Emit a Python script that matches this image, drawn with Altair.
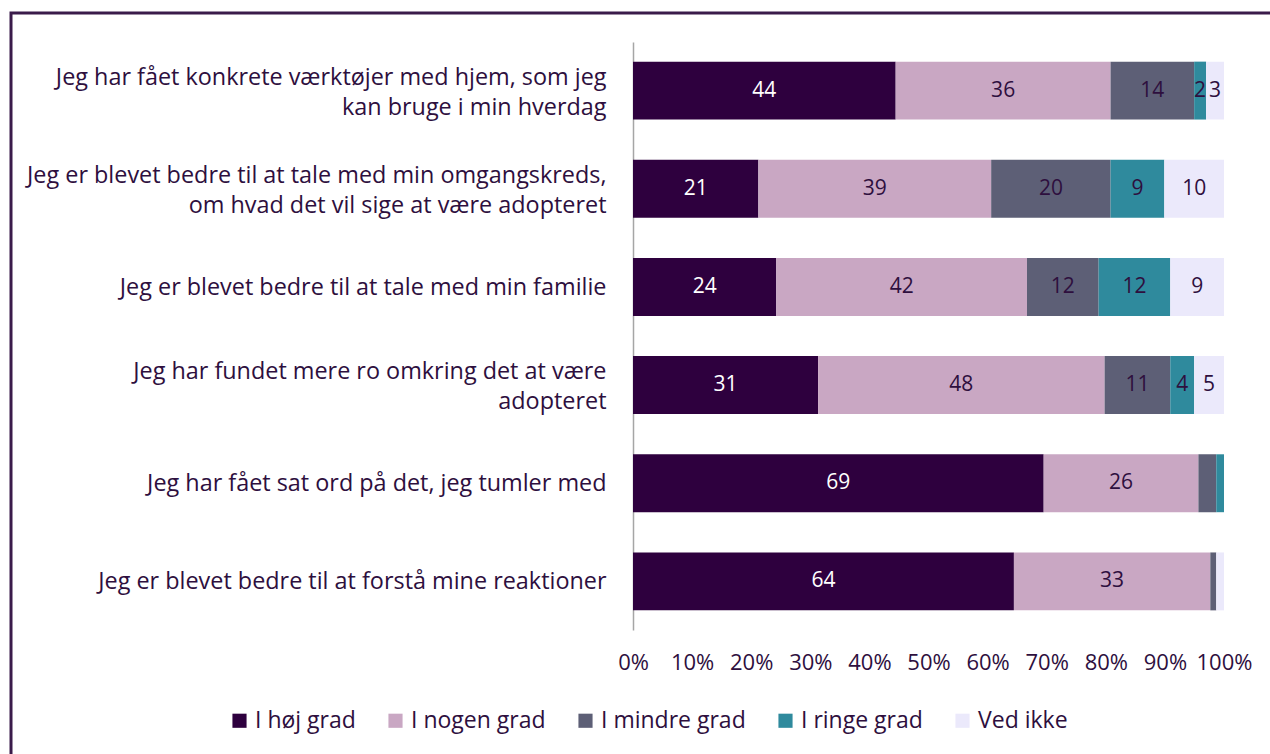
import altair as alt
import pandas as pd

categories = [
    "Jeg har fået konkrete værktøjer med hjem, som jeg|kan bruge i min hverdag",
    "Jeg er blevet bedre til at tale med min omgangskreds,|om hvad det vil sige at være adopteret",
    "Jeg er blevet bedre til at tale med min familie",
    "Jeg har fundet mere ro omkring det at være|adopteret",
    "Jeg har fået sat ord på det, jeg tumler med",
    "Jeg er blevet bedre til at forstå mine reaktioner",
]
levels = ["I høj grad", "I nogen grad", "I mindre grad", "I ringe grad", "Ved ikke"]
colors = ["#2E003E", "#C9A7C3", "#5D5F76", "#2F8A9D", "#EBE9FB"]
label_colors = ["#FFFFFF", "#2E0F3E", "#2E0F3E", "#2E0F3E", "#2E0F3E"]

hoj = [44, 21, 24, 31, 69, 64]
nogen = [36, 39, 42, 48, 26, 33]
mindre = [14, 20, 12, 11, 3, 1]
ringe = [2, 9, 12, 4, 1.3, 0]
ved_ikke = [3, 10, 9, 5, 0, 1.3]
series = [hoj, nogen, mindre, ringe, ved_ikke]

# segments that carry no data label in the original
unlabelled = {(4, 2), (4, 3), (4, 4), (5, 2), (5, 3), (5, 4)}

rows = []
for li, (lev, vals) in enumerate(zip(levels, series)):
    for ci, (cat, v) in enumerate(zip(categories, vals)):
        show = (ci, li) not in unlabelled and v > 0
        rows.append({"cat": cat, "level": lev, "ord": li, "value": v,
                     "label": f"{v:g}" if show else "", "tcol": label_colors[li]})
df = pd.DataFrame(rows)

FONT = "Open Sans"
TXT = "#2E0F3E"
FS = 21

base = alt.Chart(df).transform_joinaggregate(
    total="sum(value)", groupby=["cat"]
).transform_calculate(
    pct="datum.value / datum.total"
).transform_window(
    cum="sum(pct)", frame=[None, 0], sort=[{"field": "ord"}], groupby=["cat"]
).transform_calculate(
    start="datum.cum - datum.pct", mid="datum.cum - datum.pct / 2"
)

y_enc = alt.Y("cat:N", sort=categories, title=None,
              scale=alt.Scale(paddingInner=0.41, paddingOuter=0.2),
              axis=alt.Axis(labelExpr="split(datum.label, '|')", labelFontSize=23.4,
                            labelFont=FONT, labelColor=TXT, labelLineHeight=30,
                            labelOffset=alt.condition("indexof(datum.label, '|') >= 0",
                                                      alt.value(-13), alt.value(1)),
                            labelPadding=27, ticks=False, domainColor="#A6A6A6",
                            domainWidth=1.5, labelLimit=700, minExtent=633, maxExtent=633))

bars = base.mark_bar().encode(
    x=alt.X("start:Q", scale=alt.Scale(domain=[0, 1]), title=None,
            axis=alt.Axis(format=".0%", values=[i / 10 for i in range(11)], grid=False,
                          domain=False, ticks=False, labelFontSize=22, labelFont=FONT,
                          labelColor=TXT, labelPadding=22, labelOverlap=False,
                          labelFlush=False)),
    x2="cum:Q",
    y=y_enc,
    color=alt.Color("level:N", sort=levels,
                    scale=alt.Scale(domain=levels, range=colors),
                    legend=alt.Legend(title=None, orient="none", direction="horizontal",
                                      legendX=-405, legendY=667,
                                      symbolType="square", symbolSize=200,
                                      symbolStrokeWidth=0, labelFontSize=23, labelFont=FONT,
                                      labelColor=TXT, columnPadding=28, labelOffset=4)),
    order=alt.Order("ord:Q"),
)

texts = base.mark_text(fontSize=FS, font=FONT).encode(
    x="mid:Q",
    y=alt.Y("cat:N", sort=categories),
    text="label:N",
    color=alt.Color("tcol:N", scale=None),
)

frame = alt.Chart(alt.Data(values=[{}])).mark_rect(
    fill=None, stroke="#3A1B4A", strokeWidth=3
).encode(
    x=alt.value(-622), x2=alt.value(700), y=alt.value(-29), y2=alt.value(800)
)

chart = alt.layer(frame, bars, texts).properties(
    width=591, height=588,
    autosize=alt.AutoSizeParams(type="none"),
    padding={"left": 633, "top": 42, "right": 46, "bottom": 124},
).configure(background="white").configure_view(stroke=None)

chart.save("out.html", embed_options={"renderer": "svg", "actions": False})
